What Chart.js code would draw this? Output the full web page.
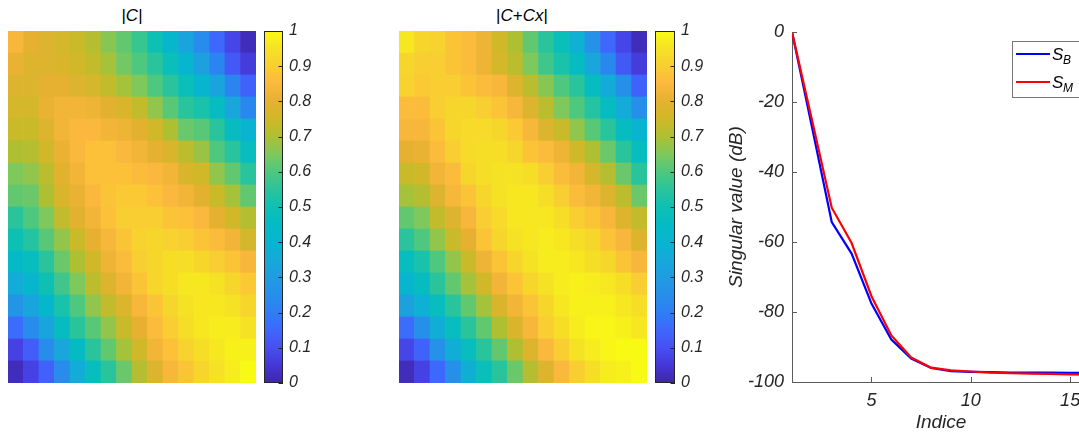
<!DOCTYPE html>
<html>
<head>
<meta charset="utf-8">
<script src="https://cdn.jsdelivr.net/npm/chart.js@4"></script>
<style>
  html, body { margin: 0; padding: 0; background: #fff; overflow: hidden; }
  body { width: 1079px; height: 435px; position: relative; font-family: "Liberation Sans", Arial, sans-serif; }
  .box { position: absolute; }
  .ttl { position: absolute; top: 6px; font-size: 17px; color: #000; transform: translateX(-50%); white-space: nowrap; }
</style>
</head>
<body>
<div class="ttl" style="left:132px">|<i>C</i>|</div>
<div class="ttl" style="left:522px">|<i>C</i>+<i>Cx</i>|</div>

<div class="box" style="left:8px;top:31px;width:248px;height:352px"><canvas id="mapC"></canvas></div>
<div class="box" style="left:262px;top:20px;width:80px;height:375px"><canvas id="barC"></canvas></div>
<div class="box" style="left:399px;top:31px;width:248px;height:352px"><canvas id="mapCx"></canvas></div>
<div class="box" style="left:653px;top:20px;width:80px;height:375px"><canvas id="barCx"></canvas></div>
<div class="box" style="left:712px;top:20px;width:388px;height:415px"><canvas id="svd"></canvas></div>

<script>
// ---- data ----

// |C| , rows top -> bottom, 16 x 16
const C_ABS = [
  [0.84,0.80,0.78,0.76,0.74,0.71,0.66,0.62,0.57,0.50,0.42,0.33,0.24,0.15,0.08,0.02],
  [0.81,0.78,0.78,0.77,0.75,0.73,0.69,0.64,0.60,0.55,0.48,0.41,0.32,0.22,0.12,0.06],
  [0.78,0.78,0.80,0.80,0.78,0.76,0.73,0.69,0.65,0.60,0.55,0.48,0.41,0.33,0.22,0.14],
  [0.76,0.76,0.81,0.83,0.83,0.82,0.79,0.77,0.73,0.67,0.61,0.55,0.52,0.46,0.34,0.23],
  [0.74,0.74,0.78,0.83,0.85,0.85,0.83,0.82,0.79,0.75,0.70,0.63,0.61,0.55,0.46,0.40],
  [0.70,0.71,0.75,0.81,0.85,0.87,0.87,0.85,0.83,0.80,0.77,0.72,0.68,0.60,0.55,0.47],
  [0.65,0.67,0.72,0.79,0.83,0.87,0.87,0.87,0.86,0.85,0.83,0.77,0.75,0.67,0.62,0.55],
  [0.62,0.63,0.70,0.77,0.81,0.85,0.88,0.89,0.89,0.87,0.85,0.83,0.79,0.74,0.69,0.62],
  [0.55,0.60,0.65,0.73,0.79,0.83,0.87,0.90,0.90,0.90,0.88,0.87,0.85,0.80,0.75,0.71],
  [0.50,0.54,0.61,0.67,0.74,0.80,0.84,0.88,0.91,0.92,0.91,0.90,0.88,0.86,0.83,0.76],
  [0.44,0.47,0.55,0.63,0.70,0.75,0.82,0.86,0.90,0.92,0.94,0.94,0.92,0.90,0.88,0.84],
  [0.36,0.41,0.50,0.58,0.65,0.72,0.78,0.83,0.88,0.92,0.94,0.96,0.96,0.95,0.92,0.89],
  [0.27,0.33,0.42,0.52,0.60,0.67,0.73,0.78,0.84,0.88,0.92,0.95,0.96,0.96,0.95,0.92],
  [0.16,0.24,0.33,0.46,0.55,0.61,0.67,0.74,0.80,0.86,0.90,0.94,0.96,0.97,0.97,0.95],
  [0.07,0.13,0.24,0.34,0.45,0.55,0.62,0.69,0.75,0.83,0.87,0.91,0.94,0.96,0.98,0.98],
  [0.02,0.07,0.14,0.24,0.36,0.47,0.55,0.63,0.71,0.78,0.84,0.88,0.92,0.95,0.97,1.00]
];

// |C+Cx| , rows top -> bottom, 16 x 16
const C_CX_ABS = [
  [0.96,0.92,0.91,0.88,0.86,0.82,0.75,0.70,0.62,0.55,0.48,0.38,0.26,0.15,0.08,0.02],
  [0.92,0.90,0.90,0.88,0.86,0.82,0.76,0.72,0.65,0.58,0.52,0.46,0.34,0.23,0.12,0.06],
  [0.91,0.89,0.90,0.90,0.88,0.86,0.84,0.78,0.72,0.66,0.60,0.55,0.46,0.36,0.25,0.14],
  [0.86,0.86,0.90,0.92,0.92,0.90,0.88,0.84,0.78,0.72,0.65,0.60,0.54,0.46,0.36,0.25],
  [0.84,0.84,0.88,0.92,0.93,0.93,0.92,0.89,0.84,0.78,0.74,0.67,0.61,0.55,0.46,0.40],
  [0.80,0.81,0.86,0.90,0.93,0.94,0.94,0.92,0.88,0.86,0.82,0.75,0.70,0.63,0.55,0.47],
  [0.74,0.75,0.83,0.86,0.92,0.94,0.95,0.95,0.94,0.90,0.86,0.83,0.76,0.71,0.63,0.55],
  [0.69,0.71,0.78,0.84,0.88,0.92,0.95,0.96,0.96,0.94,0.90,0.86,0.83,0.78,0.72,0.63],
  [0.62,0.65,0.73,0.78,0.84,0.90,0.93,0.96,0.96,0.96,0.94,0.90,0.88,0.84,0.78,0.73],
  [0.55,0.60,0.67,0.74,0.80,0.88,0.92,0.95,0.96,0.97,0.96,0.94,0.92,0.88,0.84,0.78],
  [0.47,0.52,0.60,0.67,0.74,0.82,0.88,0.92,0.95,0.97,0.97,0.96,0.94,0.92,0.88,0.84],
  [0.41,0.46,0.55,0.62,0.69,0.75,0.83,0.88,0.92,0.95,0.97,0.98,0.97,0.96,0.94,0.90],
  [0.32,0.38,0.47,0.55,0.62,0.69,0.77,0.83,0.88,0.92,0.96,0.98,0.98,0.98,0.96,0.94],
  [0.16,0.25,0.37,0.47,0.55,0.62,0.70,0.77,0.84,0.90,0.94,0.97,0.99,0.99,0.98,0.96],
  [0.08,0.14,0.26,0.37,0.47,0.55,0.62,0.70,0.78,0.85,0.90,0.95,0.97,0.99,1.00,1.00],
  [0.02,0.07,0.15,0.25,0.37,0.48,0.55,0.63,0.71,0.78,0.85,0.90,0.94,0.97,0.98,1.00]
];

const CB_TICKS = [0, 0.1, 0.2, 0.3, 0.4, 0.5, 0.6, 0.7, 0.8, 0.9, 1];

// singular value curves (dB)
const INDICES = [1, 2, 3, 4, 5, 6, 7, 8, 9, 10, 11, 12, 13, 14, 15, 16];
const S_B = [0, -27, -54.3, -63.3, -77.6, -87.9, -93.3, -96.0, -96.9, -97.1, -97.2, -97.3, -97.3, -97.3, -97.4, -97.4];
const S_M = [0, -25, -50.2, -60.3, -75.5, -86.7, -93.0, -95.9, -96.7, -97.0, -97.3, -97.5, -97.6, -97.7, -97.8, -97.9];
const X_TICKS = [5, 10, 15];
const Y_TICKS = [-100, -80, -60, -40, -20, 0];

// ---- look ----
const AXIS_COL = '#5a5a5a';
const TEXT_COL = '#262626';
const FONT = '"Liberation Sans", Arial, sans-serif';

// parula-like colormap stops
const PARULA = [
  [0.00, [62, 38, 168]],  [0.05, [69, 55, 215]],  [0.10, [71, 79, 242]],
  [0.15, [62, 103, 252]], [0.20, [46, 126, 245]], [0.25, [38, 143, 234]],
  [0.30, [32, 156, 226]], [0.35, [22, 169, 217]], [0.40, [8, 180, 208]],
  [0.45, [4, 187, 196]],  [0.50, [14, 192, 180]], [0.55, [42, 196, 156]],
  [0.60, [78, 200, 126]], [0.65, [126, 200, 92]], [0.70, [174, 192, 50]],
  [0.75, [208, 184, 40]], [0.80, [230, 177, 48]], [0.85, [251, 184, 62]],
  [0.875, [252, 194, 56]], [0.90, [248, 206, 50]], [0.95, [246, 226, 36]],
  [1.00, [249, 250, 20]]
];

function parula(v) {
  v = Math.max(0, Math.min(1, v));
  for (let i = 1; i < PARULA.length; i++) {
    const [t1, c1] = PARULA[i];
    const [t0, c0] = PARULA[i - 1];
    if (v <= t1) {
      const f = (v - t0) / (t1 - t0);
      const c = c0.map((x, k) => Math.round(x + (c1[k] - x) * f));
      return `rgb(${c[0]},${c[1]},${c[2]})`;
    }
  }
  return 'rgb(249,250,20)';
}

/* heatmap = stacked bar chart, one dataset per row, one bar per cell */
function makeHeatmap(id, rows) {
  const cols = rows[0].map((_, i) => String(i + 1));
  const datasets = [];
  // stacking starts at the bottom, so walk the rows from the last one
  for (let r = rows.length - 1; r >= 0; r--) {
    datasets.push({
      data: rows[r].map(() => 1),
      backgroundColor: rows[r].map(v => parula(v)),
      borderWidth: 0,
      barPercentage: 1,
      categoryPercentage: 1
    });
  }
  new Chart(document.getElementById(id), {
    type: 'bar',
    data: { labels: cols, datasets: datasets },
    options: {
      responsive: true, maintainAspectRatio: false, animation: false, events: [],
      layout: { padding: 0 },
      plugins: { legend: { display: false }, tooltip: { enabled: false } },
      scales: {
        x: { display: false, stacked: true },
        y: { display: false, stacked: true, min: 0, max: rows.length }
      }
    }
  });
}

/* colorbar box + inward tick marks */
const colorbarFrame = {
  id: 'colorbarFrame',
  afterDatasetsDraw(chart) {
    const { ctx, chartArea: a } = chart;
    const ys = chart.scales.y;
    ctx.save();
    ctx.strokeStyle = '#262626';
    ctx.lineWidth = 1;
    ctx.strokeRect(Math.round(a.left) + 0.5, Math.round(a.top) + 0.5,
                   Math.round(a.right - a.left) - 1, Math.round(a.bottom - a.top) - 1);
    CB_TICKS.forEach(v => {
      const y = Math.round(ys.getPixelForValue(v)) + 0.5;
      ctx.beginPath();
      ctx.moveTo(a.right - 4.5, y);
      ctx.lineTo(a.right, y);
      ctx.stroke();
    });
    ctx.restore();
  }
};

// barWidth = width of the colour strip, the rest of the 80px box is the axis
function makeColorbar(id, barWidth) {
  new Chart(document.getElementById(id), {
    type: 'bar',
    data: {
      labels: ['cb'],
      datasets: [{
        data: [[0, 1]],
        borderWidth: 0,
        barPercentage: 1,
        categoryPercentage: 1,
        backgroundColor(c) {
          const a = c.chart.chartArea;
          if (!a) return null;
          const g = c.chart.ctx.createLinearGradient(0, a.bottom, 0, a.top);
          PARULA.forEach(([t, col]) => g.addColorStop(t, `rgb(${col[0]},${col[1]},${col[2]})`));
          return g;
        }
      }]
    },
    options: {
      responsive: true, maintainAspectRatio: false, animation: false, events: [],
      layout: { padding: { left: 2, top: 11, bottom: 12, right: 0 } },
      plugins: { legend: { display: false }, tooltip: { enabled: false } },
      scales: {
        x: { display: false },
        y: {
          position: 'right', min: 0, max: 1,
          afterBuildTicks(s) { s.ticks = CB_TICKS.map(v => ({ value: v })); },
          afterFit(s) { s.width = 80 - 2 - barWidth; s.paddingTop = 0; s.paddingBottom = 0; },
          grid: { display: false, drawTicks: false },
          border: { display: false },
          ticks: {
            padding: 6, color: TEXT_COL, font: { family: FONT, size: 16, style: 'italic' },
            callback: v => String(Math.round(v * 10) / 10)
          }
        }
      }
    },
    plugins: [colorbarFrame]
  });
}

/* inward ticks (matlab style) + legend with subscripts */
const svdDecor = {
  id: 'svdDecor',
  afterDraw(chart) {
    const { ctx, chartArea: a, scales } = chart;
    ctx.save();
    ctx.strokeStyle = AXIS_COL;
    ctx.lineWidth = 1;
    Y_TICKS.forEach(v => {
      const y = Math.round(scales.y.getPixelForValue(v)) + 0.5;
      ctx.beginPath(); ctx.moveTo(a.left, y); ctx.lineTo(a.left + 5, y); ctx.stroke();
    });
    X_TICKS.forEach(v => {
      const x = Math.round(scales.x.getPixelForValue(v)) + 0.5;
      ctx.beginPath(); ctx.moveTo(x, a.bottom); ctx.lineTo(x, a.bottom - 5); ctx.stroke();
    });

    // legend box
    const lx = 300, ly = 21, lw = 100, lh = 56;
    ctx.fillStyle = '#fff';
    ctx.fillRect(lx, ly, lw, lh);
    ctx.strokeStyle = '#777';
    ctx.strokeRect(lx + 0.5, ly + 0.5, lw, lh);
    const items = [chart.data.datasets[1], chart.data.datasets[0]];
    items.forEach((ds, i) => {
      const y = 34 + i * 28;
      ctx.strokeStyle = ds.borderColor;
      ctx.lineWidth = 2.2;
      ctx.beginPath(); ctx.moveTo(lx + 4, y); ctx.lineTo(lx + 38, y); ctx.stroke();
      ctx.fillStyle = '#000';
      ctx.textBaseline = 'alphabetic';
      ctx.font = `italic 17px ${FONT}`;
      ctx.fillText(ds.label[0], lx + 40, y + 6);
      ctx.font = `italic 12px ${FONT}`;
      ctx.fillText(ds.label.slice(2), lx + 51, y + 10);
    });
    ctx.restore();
  }
};

makeHeatmap('mapC', C_ABS);
makeHeatmap('mapCx', C_CX_ABS);
makeColorbar('barC', 19);
makeColorbar('barCx', 20);

new Chart(document.getElementById('svd'), {
  type: 'line',
  data: {
    datasets: [
      { label: 'S_M', data: INDICES.map((x, i) => ({ x: x, y: S_M[i] })),
        borderColor: '#ff0000', borderWidth: 2.2, pointRadius: 0, tension: 0, order: 0 },
      { label: 'S_B', data: INDICES.map((x, i) => ({ x: x, y: S_B[i] })),
        borderColor: '#0000ff', borderWidth: 2.2, pointRadius: 0, tension: 0, order: 1 }
    ]
  },
  options: {
    responsive: true, maintainAspectRatio: false, animation: false, events: [],
    layout: { padding: { top: 12, right: 10, left: 0, bottom: 0 } },
    plugins: { legend: { display: false }, tooltip: { enabled: false } },
    scales: {
      x: {
        type: 'linear', min: 1, max: 16,
        afterBuildTicks(s) { s.ticks = X_TICKS.map(v => ({ value: v })); },
        afterFit(s) { s.height = 53; s.paddingLeft = 0; s.paddingRight = 0; },
        grid: { display: false },
        border: { display: true, color: AXIS_COL, width: 1 },
        ticks: { padding: 0, color: TEXT_COL, font: { family: FONT, size: 18, style: 'italic' } },
        title: { display: true, text: 'Indice', color: TEXT_COL, padding: { top: 0, bottom: 1 },
                 font: { family: FONT, size: 19, style: 'italic' } }
      },
      y: {
        min: -100, max: 0,
        afterBuildTicks(s) { s.ticks = Y_TICKS.map(v => ({ value: v })); },
        afterFit(s) { s.width = 80; s.paddingTop = 0; s.paddingBottom = 0; },
        grid: { display: false },
        border: { display: true, color: AXIS_COL, width: 1 },
        ticks: { padding: 0, color: TEXT_COL, font: { family: FONT, size: 18, style: 'italic' } },
        title: { display: true, text: 'Singular value (dB)', color: TEXT_COL, padding: { top: 13, bottom: 0 },
                 font: { family: FONT, size: 19, style: 'italic' } }
      }
    }
  },
  plugins: [svdDecor]
});
</script>
</body>
</html>
